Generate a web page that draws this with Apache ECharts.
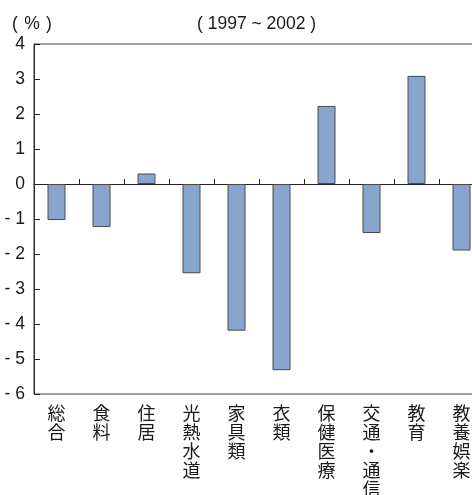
<!DOCTYPE html>
<html>
<head>
<meta charset="utf-8">
<script src="https://cdn.jsdelivr.net/npm/echarts@6/dist/echarts.min.js"></script>
<style>
  html, body { margin: 0; padding: 0; background: #fff; }
  #chart { width: 472px; height: 495px; }
</style>
</head>
<body>
<div id="chart"></div>
<script>
// 費目別の変化率（1997～2002）
const categories = ['総合', '食料', '住居', '光熱水道', '家具類', '衣類', '保健医療', '交通・通信', '教育', '教養娯楽'];
const values = [-1.03, -1.23, 0.30, -2.55, -4.19, -5.32, 2.23, -1.40, 3.09, -1.90];
const yTicks = [-6, -5, -4, -3, -2, -1, 0, 1, 2, 3, 4];

const textColor = '#1a1a1a';
const fontFamily = 'Liberation Sans, Arial, sans-serif';

var myChart = echarts.init(document.getElementById('chart'));
myChart.setOption({
  animation: false,
  title: [
    {
      text: '( \u200A% \u200A)',
      left: 12,
      top: 15,
      padding: 0,
      textStyle: { fontSize: 17.5, fontWeight: 'normal', color: textColor, fontFamily: fontFamily }
    },
    {
      text: '( 1997 ~ 2002 )',
      left: 197,
      top: 15,
      padding: 0,
      textStyle: { fontSize: 17.5, fontWeight: 'normal', color: textColor, fontFamily: fontFamily }
    }
  ],
  grid: {
    left: 34,
    top: 44,
    width: 450,
    height: 350,
    outerBoundsMode: 'none',
    containLabel: false,
    show: true,
    borderColor: '#444',
    borderWidth: 1
  },
  xAxis: [
    {
      type: 'category',
      data: categories,
      axisLine: { onZero: true, lineStyle: { color: '#222', width: 1 } },
      axisTick: { show: true, inside: true, length: 5, interval: 0, lineStyle: { color: '#222' } },
      axisLabel: { show: false }
    },
    {
      type: 'category',
      data: categories,
      position: 'bottom',
      axisLine: { show: false, onZero: false },
      axisTick: { show: false },
      axisLabel: {
        interval: 0,
        margin: 10,
        fontSize: 18,
        lineHeight: 19,
        color: textColor,
        fontFamily: 'Noto Sans CJK JP',
        verticalAlign: 'top',
        formatter: function (v) { return v.split('').join('\n'); }
      }
    }
  ],
  yAxis: {
    type: 'value',
    min: yTicks[0],
    max: yTicks[yTicks.length - 1],
    interval: 1,
    axisLine: { show: true, lineStyle: { color: '#222' } },
    axisTick: { show: true, inside: true, length: 6, lineStyle: { color: '#222' } },
    splitLine: { show: false },
    axisLabel: {
      margin: 9,
      fontSize: 17.5,
      color: textColor,
      fontFamily: fontFamily,
      formatter: function (v) { return v < 0 ? '- ' + (-v) : String(v); }
    }
  },
  series: [
    {
      type: 'bar',
      xAxisIndex: 0,
      data: values,
      barWidth: 18,
      itemStyle: {
        color: '#87A5CD',
        borderColor: '#4a4a4a',
        borderWidth: 1
      }
    }
  ]
});
</script>
</body>
</html>
